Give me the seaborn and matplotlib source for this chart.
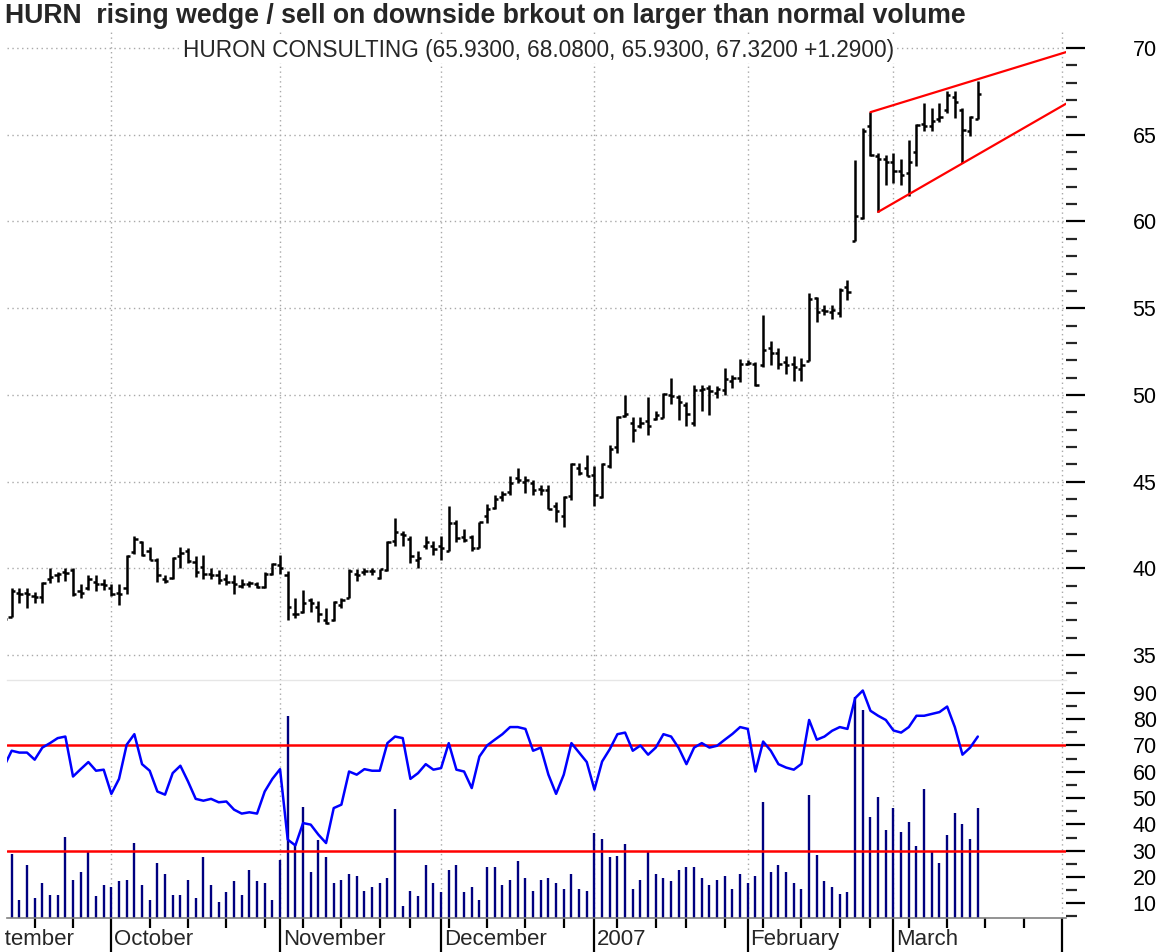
import numpy as np
import pandas as pd
import matplotlib
matplotlib.use('Agg')
import matplotlib.pyplot as plt
from matplotlib.transforms import Bbox, TransformedBbox
import seaborn as sns

sns.set_theme(style='white')
plt.rcParams['font.family'] = ['Liberation Sans', 'DejaVu Sans']

# --- data, first bar = 2006-09-12, last = 2007-03-16 ---
opens = [37.0, 37.2, 38.6, 38.6, 38.4, 38.35, 39.4, 39.6, 39.8, 39.9,
         38.7, 38.9, 39.2, 39.1, 38.85, 38.6, 38.9, 40.95, 41.5, 41.0,
         40.5, 39.4, 39.45, 40.7, 41.0, 40.4, 40.1, 39.7, 39.6, 39.4,
         39.2, 39.0, 39.1, 39.1, 38.95, 39.7, 40.2, 39.6, 37.4, 37.5,
         38.2, 37.8, 37.0, 37.0, 37.9, 38.3, 39.7, 39.8, 39.85, 39.45,
         39.9, 41.6, 42.0, 41.7, 40.5, 41.3, 41.3, 41.3, 41.0, 42.6,
         41.8, 41.8, 41.2, 43.0, 43.5, 44.1, 44.4, 45.2, 45.0, 44.9,
         44.6, 44.5, 43.6, 43.0, 44.2, 45.8, 45.8, 45.4, 44.1, 45.9,
         47.0, 48.8, 48.4, 48.2, 48.5, 48.6, 48.7, 50.0, 49.9, 49.4,
         48.4, 50.3, 50.4, 50.1, 50.3, 50.8, 51.0, 51.8, 51.8, 51.7,
         52.7, 52.4, 51.9, 51.8, 51.5, 51.95, 55.6, 54.9, 54.8, 54.7,
         56.2, 58.9, 60.2, 65.5, 63.8, 63.6, 63.4, 62.9, 62.8, 64.0,
         65.6, 65.5, 65.9, 66.4, 67.2, 66.4, 65.2, 65.93]
highs = [37.3, 38.85, 38.85, 38.9, 38.65, 39.2, 40.0, 39.8, 40.0, 40.0,
         39.1, 39.6, 39.65, 39.4, 39.1, 39.1, 40.75, 41.85, 41.6, 41.25,
         40.6, 39.6, 40.67, 41.25, 41.15, 40.7, 40.75, 40.0, 39.9, 39.7,
         39.6, 39.4, 39.3, 39.2, 39.8, 40.3, 40.75, 39.85, 38.3, 38.75,
         38.3, 38.1, 37.7, 38.1, 38.3, 39.95, 39.95, 40.05, 40.05, 39.95,
         41.6, 42.9, 42.15, 41.85, 41.0, 41.85, 41.6, 41.85, 43.6, 42.8,
         42.3, 41.95, 42.7, 43.7, 44.25, 44.45, 45.3, 45.8, 45.3, 45.1,
         44.8, 44.8, 43.85, 44.15, 46.05, 46.05, 46.55, 45.9, 46.05, 47.1,
         48.8, 50.0, 48.75, 48.75, 49.9, 49.1, 50.1, 50.95, 50.0, 49.6,
         50.6, 50.6, 50.6, 50.5, 51.55, 51.15, 52.1, 52.0, 51.9, 54.6,
         53.1, 52.7, 52.25, 52.25, 52.15, 55.85, 55.65, 55.2, 55.2, 56.15,
         56.65, 63.55, 65.4, 66.3, 63.95, 63.85, 63.95, 63.6, 64.7, 65.6,
         66.8, 66.55, 66.8, 67.5, 67.5, 66.55, 66.05, 68.08]
lows = [36.9, 37.2, 38.0, 37.7, 38.0, 38.0, 39.15, 39.2, 39.3, 38.4,
        38.3, 38.75, 38.7, 38.75, 38.4, 37.9, 38.5, 40.85, 40.7, 40.5,
        39.2, 39.15, 39.4, 40.0, 40.3, 39.5, 39.4, 39.4, 39.1, 39.05,
        38.55, 38.85, 38.95, 38.85, 38.85, 39.6, 39.7, 37.05, 37.15, 37.45,
        37.5, 36.9, 36.8, 36.95, 37.7, 38.3, 39.3, 39.65, 39.65, 39.4,
        39.85, 41.3, 41.3, 40.3, 40.05, 41.1, 40.8, 40.5, 41.0, 41.5,
        41.5, 41.0, 41.2, 42.6, 43.4, 43.9, 44.25, 44.9, 44.35, 44.25,
        44.25, 43.4, 42.7, 42.4, 43.95, 45.4, 45.3, 43.6, 44.05, 45.8,
        46.65, 48.75, 47.3, 48.1, 47.7, 48.55, 48.65, 49.5, 48.55, 48.2,
        48.2, 49.05, 48.85, 49.8, 50.0, 50.4, 50.75, 51.7, 50.5, 51.6,
        51.7, 51.5, 51.2, 50.8, 50.8, 51.95, 54.2, 54.6, 54.4, 54.5,
        55.45, 58.85, 60.15, 63.75, 60.55, 62.1, 62.2, 62.1, 61.45, 63.2,
        65.2, 65.2, 65.75, 66.25, 65.95, 63.35, 64.9, 65.93]
closes = [37.1, 38.7, 38.55, 38.5, 38.35, 39.15, 39.5, 39.7, 39.75, 38.5,
          38.6, 39.4, 39.1, 39.05, 38.55, 38.55, 40.7, 41.7, 40.75, 40.5,
          39.6, 39.3, 40.6, 40.9, 40.45, 39.8, 39.7, 39.6, 39.35, 39.2,
          39.1, 39.1, 39.15, 38.95, 39.7, 40.25, 40.05, 37.8, 37.35, 38.0,
          38.0, 37.35, 36.85, 38.05, 38.2, 39.85, 39.65, 39.85, 39.85, 39.95,
          41.5, 42.1, 41.9, 40.7, 40.6, 41.5, 41.1, 41.2, 42.6, 41.75,
          41.65, 41.2, 42.65, 43.4, 44.0, 44.3, 44.9, 45.1, 45.1, 44.5,
          44.5, 43.4, 43.3, 44.1, 46.0, 45.5, 45.3, 44.25, 46.0, 46.9,
          48.75, 48.9, 48.0, 48.4, 48.2, 48.85, 50.05, 49.95, 49.6, 48.9,
          50.3, 50.35, 50.2, 50.35, 50.9, 51.0, 51.8, 51.85, 50.6, 52.6,
          52.4, 51.8, 51.7, 51.6, 51.7, 55.55, 54.8, 54.85, 54.9, 56.05,
          55.95, 60.3, 65.2, 63.85, 63.6, 63.4, 62.9, 62.7, 63.45, 65.55,
          65.5, 65.8, 66.0, 67.3, 66.9, 65.3, 66.03, 67.32]
volume = [20.0, 28.9, 11.4, 24.7, 12.0, 17.7, 13.3, 13.3, 35.2, 19.0,
          21.8, 29.5, 12.7, 16.8, 16.2, 18.4, 19.0, 33.0, 16.8, 11.3,
          25.4, 21.1, 13.3, 13.3, 19.0, 12.0, 27.5, 16.8, 10.5, 14.2,
          18.4, 13.3, 22.5, 18.4, 17.6, 11.3, 26.6, 81.4, 32.3, 46.5,
          21.9, 34.2, 27.5, 17.6, 19.0, 21.1, 20.4, 14.8, 16.2, 17.6,
          19.7, 45.7, 9.1, 14.8, 12.7, 24.7, 17.6, 14.2, 22.5, 24.7,
          14.2, 16.2, 11.3, 23.9, 23.9, 16.8, 19.0, 26.1, 19.7, 14.8,
          19.0, 19.7, 17.6, 15.6, 21.1, 15.6, 14.8, 36.6, 34.4, 27.5,
          28.1, 32.4, 15.6, 19.0, 29.6, 21.1, 19.7, 18.4, 22.5, 23.9,
          23.9, 19.7, 16.8, 19.0, 20.4, 15.6, 21.1, 17.6, 20.4, 48.5,
          21.9, 24.7, 21.9, 17.6, 15.6, 51.3, 28.2, 18.4, 16.2, 13.4,
          14.2, 88.4, 83.5, 42.9, 50.5, 38.0, 46.3, 37.2, 40.8, 31.6,
          53.4, 29.6, 25.3, 35.8, 44.3, 40.0, 34.4, 46.3]
rsi = [62.0, 68.0, 67.3, 67.3, 64.6, 69.2, 70.9, 72.8, 73.4, 58.2,
       61.0, 63.7, 60.4, 60.8, 51.6, 57.3, 70.3, 74.3, 62.9, 60.4,
       52.5, 51.3, 59.5, 62.3, 56.3, 49.7, 49.0, 49.7, 48.4, 48.7,
       45.6, 44.1, 44.6, 44.1, 52.5, 57.3, 61.0, 34.2, 32.0, 40.5,
       39.9, 36.1, 32.9, 46.2, 47.5, 60.1, 58.9, 61.0, 60.4, 60.4,
       70.9, 73.4, 72.8, 57.3, 59.5, 62.9, 60.8, 61.4, 70.9, 60.8,
       60.1, 53.8, 65.8, 70.0, 72.2, 74.3, 77.0, 77.0, 76.3, 68.0,
       69.2, 58.9, 51.6, 58.9, 70.9, 67.3, 63.7, 53.2, 63.9, 68.6,
       74.3, 74.9, 68.0, 70.0, 66.5, 69.2, 74.3, 73.4, 69.0, 62.9,
       69.2, 70.9, 69.2, 69.9, 72.2, 74.4, 77.0, 76.3, 60.1, 71.5,
       68.0, 62.9, 61.6, 60.8, 63.0, 79.7, 72.2, 73.4, 75.6, 77.0,
       76.3, 88.0, 90.9, 83.2, 81.3, 79.7, 75.7, 74.9, 77.0, 81.3,
       81.3, 82.0, 82.7, 84.8, 77.0, 66.5, 69.2, 73.4]

# wedge trendlines: (bar index, price) anchors, extended to the right edge
wedge_upper_bars = [113, 127]
wedge_upper_price = [66.3, 68.2]
wedge_lower_bars = [114, 125]
wedge_lower_price = [60.55, 63.35]

rsi_levels = [30, 70]
month_names = {9: 'September', 10: 'October', 11: 'November', 12: 'December',
               1: '2007', 2: 'February', 3: 'March'}

title = 'HURN  rising wedge / sell on downside brkout on larger than normal volume'
subtitle = 'HURON CONSULTING (65.9300, 68.0800, 65.9300, 67.3200 +1.2900)'

# trading calendar
holidays = pd.to_datetime(['2006-09-04', '2006-11-23', '2006-12-25', '2007-01-01',
                           '2007-01-02', '2007-01-15', '2007-02-19'])
days = pd.bdate_range('2006-09-01', '2007-04-02')
days = days[~days.isin(holidays)]
pos = np.arange(len(days)) - days.get_loc(pd.Timestamp('2006-09-12'))
month_first = np.r_[True, days.month[1:] != days.month[:-1]]
week = days.isocalendar().week.values
week_first = np.r_[True, week[1:] != week[:-1]]

x = np.arange(len(closes))
o, h, l, c = map(np.array, (opens, highs, lows, closes))

fig = plt.figure(figsize=(11.63, 9.52), dpi=100)
W, H = 1163, 952
left, right = 7, 1066
ax1 = fig.add_axes([left / W, 1 - 680 / H, (right - left) / W, (680 - 32) / H])
ax2 = fig.add_axes([left / W, 1 - 918 / H, (right - left) / W, (918 - 680) / H])

xlim = (0.39, 138.5)
grid_kw = dict(color='#A8A8A8', lw=1.0, ls=(0, (1, 2.5)), zorder=0)

# --- price panel ---
ax1.vlines(x, l, h, color='black', lw=1.8, zorder=3)
ax1.hlines(o, x - 0.42, x, color='black', lw=1.8, zorder=3)
ax1.hlines(c, x, x + 0.42, color='black', lw=1.8, zorder=3)

for bars, prices in [(wedge_upper_bars, wedge_upper_price), (wedge_lower_bars, wedge_lower_price)]:
    slope = (prices[1] - prices[0]) / (bars[1] - bars[0])
    xs = np.array([bars[0], xlim[1]])
    ax1.plot(xs, prices[0] + slope * (xs - bars[0]), color='#FF0000', lw=1.6, zorder=4)

for yv in range(35, 71, 5):
    ax1.axhline(yv, **grid_kw)
for p in pos[month_first]:
    ax1.axvline(p, **grid_kw)
    ax2.axvline(p, **grid_kw)

ax1.set_xticks([])
ax1.yaxis.tick_right()
ax1.set_yticks(range(35, 71, 5))
ax1.set_yticks(range(34, 71), minor=True)
ax1.tick_params(axis='y', which='major', length=14, width=1.6, pad=34, labelsize=15.5,
                colors='black', right=True, left=False)
ax1.tick_params(axis='y', which='minor', length=8, width=1.6, right=True, left=False)
ax1.set_xlim(*xlim)
ax1.set_ylim(33.57, 70.92)
for s in ax1.spines.values():
    s.set_visible(False)

# --- RSI / volume panel ---
ax2.vlines(x, 0, volume, color='#000080', lw=1.7, zorder=2)
for lv in rsi_levels:
    ax2.axhline(lv, color='#FF0000', lw=1.8, zorder=3)
sns.lineplot(x=x, y=rsi, ax=ax2, color='#0000FF', lw=1.8, zorder=4)

ax2.yaxis.tick_right()
ax2.set_yticks(range(10, 91, 10))
ax2.set_yticks(range(5, 95, 10), minor=True)
ax2.tick_params(axis='y', which='major', length=14, width=1.6, pad=34, labelsize=15.5,
                colors='black', right=True, left=False)
ax2.tick_params(axis='y', which='minor', length=8, width=1.6, right=True, left=False)
ax2.set_xticks(pos[month_first])
ax2.set_xticks(pos[week_first], minor=True)
ax2.set_xticklabels([])
ax2.tick_params(axis='x', which='major', length=26, width=1.6, colors='black',
                bottom=True, direction='out')
ax2.tick_params(axis='x', which='minor', length=7.5, width=1.6, colors='black',
                bottom=True, direction='out')
ax2.set_xlim(*xlim)
ax2.set_ylim(4.4, 94.9)
ax2.set_xlabel('')
ax2.set_ylabel('')
for k, s in ax2.spines.items():
    s.set_visible(k in ('bottom', 'top'))
ax2.spines['bottom'].set_color('#808080')
ax2.spines['bottom'].set_linewidth(1.2)
ax2.spines['top'].set_color('#E6E6E6')
ax2.spines['top'].set_linewidth(1.0)

# month names; like the original, the partial first month is cut at the chart's left edge
clip = TransformedBbox(Bbox([[left / W - 0.002, 0], [1, 1]]), fig.transFigure)
for d, p in zip(days[month_first], pos[month_first]):
    if d.month in month_names:
        shift = 1.0 if d.month == 9 else 0.35
        t = ax2.text(p + shift, -0.092, month_names[d.month], transform=ax2.get_xaxis_transform(),
                     ha='left', va='center', fontsize=16)
        t.set_clip_box(clip)
        t.set_clip_on(True)

fig.text(5 / W, 1 - 16 / H, title, fontsize=19.2, fontweight='bold', va='center', ha='left')
fig.text(183 / W, 1 - 50 / H, subtitle, fontsize=16.3, va='center', ha='left',
         bbox=dict(facecolor='white', edgecolor='none', pad=1))

fig.savefig('out.png', dpi=100)
